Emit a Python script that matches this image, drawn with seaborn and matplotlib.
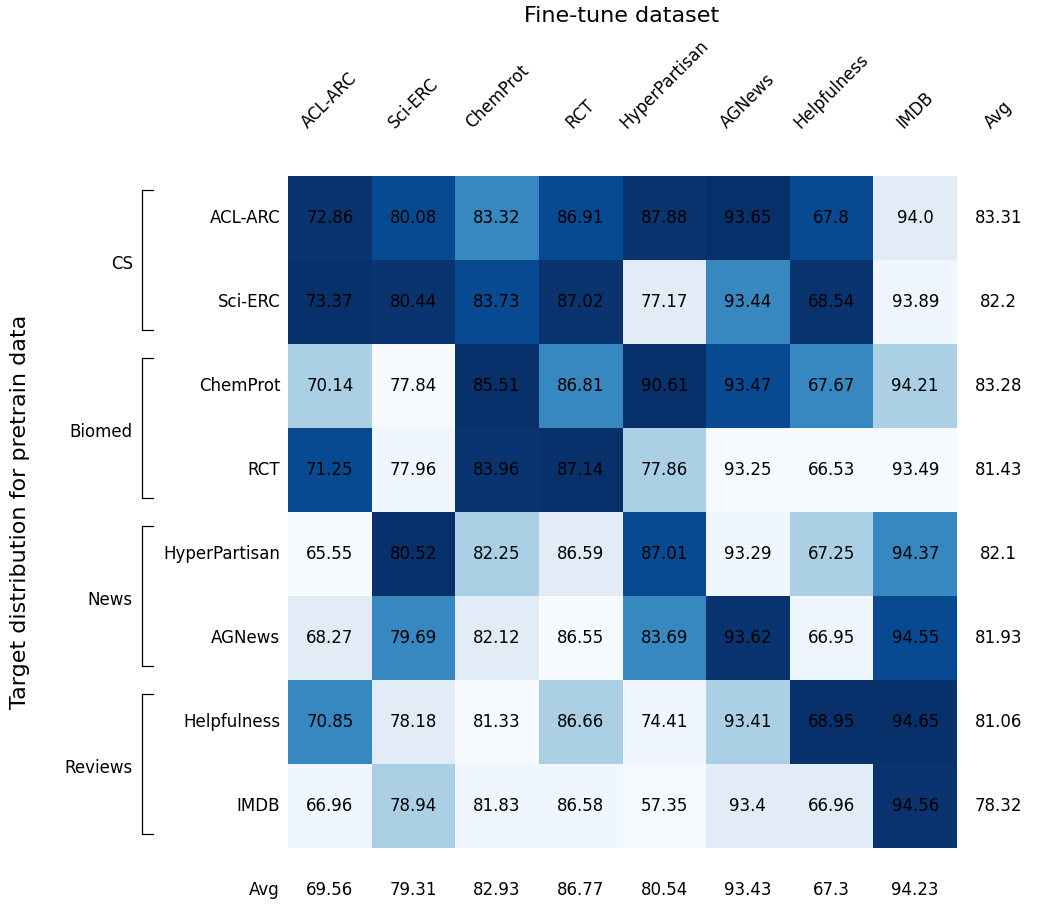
import numpy as np
import pandas as pd
import matplotlib
matplotlib.use("Agg")
import matplotlib.pyplot as plt
import matplotlib.transforms as mtransforms
from matplotlib.colors import ListedColormap
import seaborn as sns

# rows = pretrain data, columns = fine-tune dataset
datasets = ["ACL-ARC", "Sci-ERC", "ChemProt", "RCT", "HyperPartisan", "AGNews", "Helpfulness", "IMDB"]
domains = ["CS", "Biomed", "News", "Reviews"]

acl_arc = [72.86, 73.37, 70.14, 71.25, 65.55, 68.27, 70.85, 66.96]
sci_erc = [80.08, 80.44, 77.84, 77.96, 80.52, 79.69, 78.18, 78.94]
chemprot = [83.32, 83.73, 85.51, 83.96, 82.25, 82.12, 81.33, 81.83]
rct = [86.91, 87.02, 86.81, 87.14, 86.59, 86.55, 86.66, 86.58]
hyperpartisan = [87.88, 77.17, 90.61, 77.86, 87.01, 83.69, 74.41, 57.35]
agnews = [93.65, 93.44, 93.47, 93.25, 93.29, 93.62, 93.41, 93.4]
helpfulness = [67.8, 68.54, 67.67, 66.53, 67.25, 66.95, 68.95, 66.96]
imdb = [94.0, 93.89, 94.21, 93.49, 94.37, 94.55, 94.65, 94.56]

row_avg = [83.31, 82.2, 83.28, 81.43, 82.1, 81.93, 81.06, 78.32]
col_avg = [69.56, 79.31, 82.93, 86.77, 80.54, 93.43, 67.3, 94.23]

df = pd.DataFrame({
    "ACL-ARC": acl_arc, "Sci-ERC": sci_erc, "ChemProt": chemprot, "RCT": rct,
    "HyperPartisan": hyperpartisan, "AGNews": agnews, "Helpfulness": helpfulness, "IMDB": imdb,
}, index=datasets)

# colour by rank inside each fine-tune column (1 = best)
rank = df.rank(axis=0, ascending=False)
annot = df.map(str)

rank_colors = ["#08306b", "#0a3470", "#084a92", "#3787c0",
               "#abd0e6", "#e1ecf7", "#f0f6fd", "#f6faff"]
cmap = ListedColormap(rank_colors)

fig = plt.figure(figsize=(10.6, 9.18), dpi=100)
ax = fig.add_axes([288 / 1060, 1 - 848 / 918, 669 / 1060, 672 / 918])

sns.heatmap(rank, cmap=cmap, vmin=0.5, vmax=8.5, annot=annot, fmt="",
            annot_kws={"color": "black", "size": 12}, cbar=False, ax=ax,
            linewidths=0)

ax.xaxis.tick_top()
ax.set_xticks(np.arange(8) + 0.5)
ax.set_xticklabels(datasets, rotation=45, ha="center", va="bottom", fontsize=12)
ax.set_yticks(np.arange(8) + 0.5)
ax.set_yticklabels(datasets, rotation=0, fontsize=12)
ax.tick_params(axis="x", length=0, pad=31.5)
ax.tick_params(axis="y", length=0, pad=5.5)
ax.set_xlabel("")
ax.set_ylabel("")

# average column and row
for i, v in enumerate(row_avg):
    ax.text(8.5, i + 0.5, str(v), ha="center", va="center", fontsize=12, clip_on=False)
for j, v in enumerate(col_avg):
    ax.text(j + 0.5, 8.5, str(v), ha="center", va="center", fontsize=12, clip_on=False)
ax.text(8.5, -0.525, "Avg", rotation=45, ha="center", va="bottom", fontsize=12, clip_on=False)
ax.text(-0.096, 8.5, "Avg", ha="right", va="center", fontsize=12, clip_on=False)

# domain brackets
trans = mtransforms.blended_transform_factory(ax.transAxes, ax.transData)
x_bar = (142 - 288) / 669
x_tip = (153 - 288) / 669
for k, name in enumerate(domains):
    y0 = 2 * k + 0.17
    y1 = 2 * k + 1.83
    ax.plot([x_tip, x_bar, x_bar, x_tip], [y0, y0, y1, y1], color="black",
            lw=0.9, transform=trans, clip_on=False)
    ax.text((133 - 288) / 669, 2 * k + 1.05, name, ha="right", va="center",
            fontsize=12, transform=trans)

fig.text(622 / 1060, 1 - 16 / 918, "Fine-tune dataset", ha="center", va="center", fontsize=16)
fig.text(20 / 1060, 1 - 512 / 918, "Target distribution for pretrain data",
         rotation=90, ha="center", va="center", fontsize=16)

fig.savefig("out.png", dpi=100)
